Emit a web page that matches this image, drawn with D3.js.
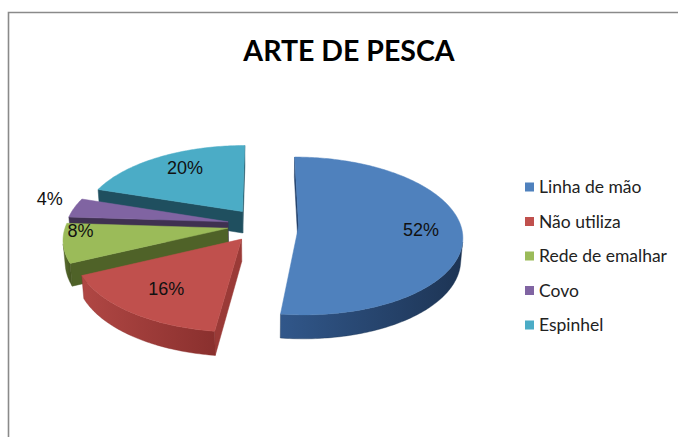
<!DOCTYPE html>
<html>
<head>
<meta charset="utf-8">
<script src="https://cdn.jsdelivr.net/npm/d3@7"></script>
<style>
  html, body { margin: 0; padding: 0; background: #ffffff; }
  svg { display: block; }
</style>
</head>
<body>
<div id="chart"></div>
<script>
// ---------- data ----------
const title = "ARTE DE PESCA";
const categories = ["Linha de mão", "Não utiliza", "Rede de emalhar", "Covo", "Espinhel"];
const values = [52, 16, 8, 4, 20];
const percentLabels = ["52%", "16%", "8%", "4%", "20%"];

// ---------- style / layout ----------
const topColors   = ["#4f81bd", "#c0504d", "#9bbb59", "#8064a2", "#4bacc6"];
const sideLight   = ["#31578a", "#b04744", "#5d7330", "#4a3a60", "#2a6b7e"];
const sideDark    = ["#1d3454", "#8a302e", "#465722", "#362a48", "#1d4c5b"];
const faceColors  = ["#22406a", "#9a3a37", "#4f6228", "#3f3151", "#1f4f5f"];
const labelRadius = [0.75, 0.70, 0.90, 1.20, 0.75];
const labelFrac   = [0.5, 0.5, 0.8, 0.8, 0.55];

const W = 678, H = 437;
const geo = { cx: 263, cy: 225, S: 162, alpha: Math.asin(0.478), D: 7, t: 0.155, explode: 0.22 };

const svg = d3.select("#chart").append("svg").attr("width", W).attr("height", H);
svg.append("rect").attr("width", W).attr("height", H).attr("fill", "#fff");

// frame (top and left edges visible)
svg.append("path").attr("d", `M8.5,${H} L8.5,12.5 L${W},12.5`)
  .attr("fill", "none").attr("stroke", "#8a8a8a").attr("stroke-width", 1.6);

// title
svg.append("text").attr("x", 349).attr("y", 61).attr("text-anchor", "middle")
  .attr("font-family", "Lato, 'Open Sans', sans-serif").attr("font-weight", "bold")
  .attr("font-size", 28.5).attr("fill", "#000").text(title);

// ---------- 3D projection ----------
const ca = Math.cos(geo.alpha), sa = Math.sin(geo.alpha);
function proj(X, Y, Z) {
  const w = Z * ca + Y * sa;
  const s = geo.D / (geo.D - w);
  return [geo.cx + X * s * geo.S, geo.cy + (Z * sa - Y * ca) * s * geo.S];
}
function area(pts) {
  let a = 0;
  for (let i = 0; i < pts.length; i++) {
    const p = pts[i], q = pts[(i + 1) % pts.length];
    a += p[0] * q[1] - q[0] * p[1];
  }
  return a / 2;
}
const line = pts => "M" + pts.map(p => p[0].toFixed(2) + "," + p[1].toFixed(2)).join("L") + "Z";

const pie = d3.pie().sort(null).startAngle(0).endAngle(2 * Math.PI);
const arcs = pie(values).map((d, i) => {
  const mid = (d.startAngle + d.endAngle) / 2;
  return { ...d, i, mid,
    ox: geo.explode * Math.sin(mid),
    oz: -geo.explode * Math.cos(mid) };
});

const defs = svg.append("defs");
const g = svg.append("g");

// painter order: back to front
const order = arcs.slice().sort((a, b) => a.oz - b.oz);

order.forEach(a => {
  const i = a.i;
  const n = Math.max(2, Math.ceil((a.endAngle - a.startAngle) / (Math.PI / 180)));
  const thetas = d3.range(n + 1).map(k => a.startAngle + (a.endAngle - a.startAngle) * k / n);
  const rimT = thetas.map(th => proj(a.ox + Math.sin(th), 0, a.oz - Math.cos(th)));
  const rimB = thetas.map(th => proj(a.ox + Math.sin(th), -geo.t, a.oz - Math.cos(th)));
  const apexT = proj(a.ox, 0, a.oz), apexB = proj(a.ox, -geo.t, a.oz);

  const sg = g.append("g").attr("class", "slice");

  // radial faces
  const f0 = [apexT, rimT[0], rimB[0], apexB];
  const f1 = [apexT, apexB, rimB[n], rimT[n]];
  [f0, f1].forEach(f => {
    if (area(f) < 0) {
      sg.append("path").attr("d", line(f)).attr("fill", faceColors[i])
        .attr("stroke", faceColors[i]).attr("stroke-width", 0.5);
    }
  });

  // outer curved side: group visible segments
  const xs = rimT.map(p => p[0]);
  const gid = "side" + i;
  const grad = defs.append("linearGradient").attr("id", gid)
    .attr("gradientUnits", "userSpaceOnUse")
    .attr("x1", d3.min(xs)).attr("x2", d3.max(xs)).attr("y1", 0).attr("y2", 0);
  grad.append("stop").attr("offset", 0).attr("stop-color", sideLight[i]);
  grad.append("stop").attr("offset", 1).attr("stop-color", sideDark[i]);

  let run = null;
  const runs = [];
  for (let k = 0; k < n; k++) {
    const q = [rimT[k], rimT[k + 1], rimB[k + 1], rimB[k]];
    if (area(q) < 0) {
      if (!run) { run = [k, k + 1]; runs.push(run); } else run[1] = k + 1;
    } else run = null;
  }
  runs.forEach(([s, e]) => {
    const pts = rimT.slice(s, e + 1).concat(rimB.slice(s, e + 1).reverse());
    sg.append("path").attr("d", line(pts)).attr("fill", `url(#${gid})`)
      .attr("stroke", sideDark[i]).attr("stroke-width", 0.4);
  });

  // top face
  sg.append("path").attr("d", line([apexT].concat(rimT))).attr("fill", topColors[i])
    .attr("stroke", topColors[i]).attr("stroke-width", 0.5);
});

// percentage labels
arcs.forEach(a => {
  const r = labelRadius[a.i];
  const ang = a.startAngle + (a.endAngle - a.startAngle) * labelFrac[a.i];
  const p = proj(a.ox + r * Math.sin(ang), 0, a.oz - r * Math.cos(ang));
  svg.append("text").attr("x", p[0]).attr("y", p[1]).attr("dy", "0.36em")
    .attr("text-anchor", "middle")
    .attr("font-family", "'Liberation Sans', Arial, sans-serif")
    .attr("font-size", 18).attr("fill", "#111")
    .text(percentLabels[a.i]);
});

// legend
const legendY = d3.scalePoint().domain(categories).range([187, 325]);
const lg = svg.append("g");
categories.forEach((c, i) => {
  const y = legendY(c);
  lg.append("rect").attr("x", 525).attr("y", y - 4.5).attr("width", 9).attr("height", 9)
    .attr("fill", topColors[i]);
  lg.append("text").attr("x", 539).attr("y", y).attr("dy", "0.35em")
    .attr("font-family", "Lato, 'Open Sans', sans-serif").attr("font-size", 17.5)
    .attr("fill", "#222").text(c);
});
</script>
</body>
</html>
